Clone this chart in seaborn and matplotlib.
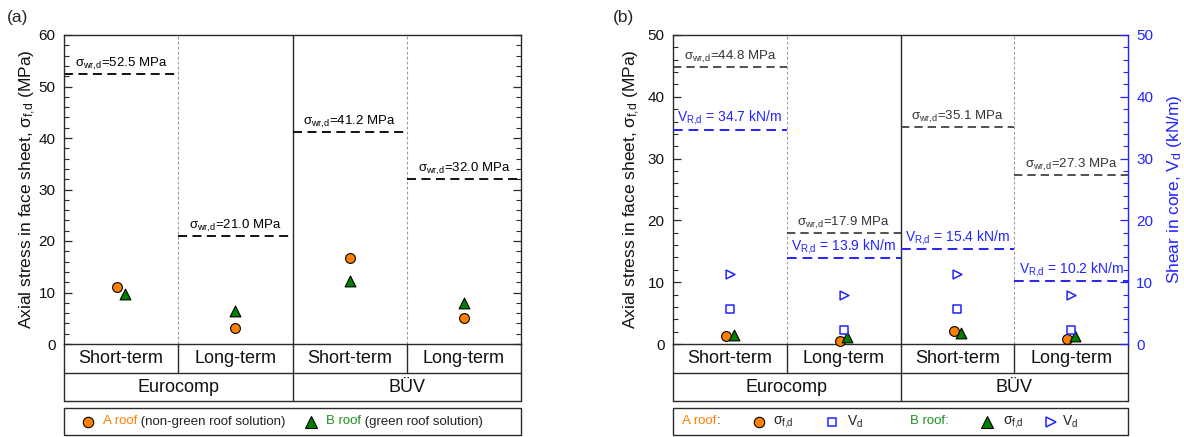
import numpy as np
import pandas as pd
import matplotlib
matplotlib.use("Agg")
import matplotlib.pyplot as plt
import seaborn as sns
from matplotlib.ticker import MultipleLocator
from matplotlib.patches import Rectangle

# ---------------- data ----------------
terms = ["Short-term", "Long-term", "Short-term", "Long-term"]
codes = ["Eurocomp", "BÜV"]

# panel (a): axial stress in face sheet (MPa)
a_sigma_A = [11.0, 3.2, 16.7, 5.0]     # A roof (non-green)
a_sigma_B = [9.8, 6.5, 12.2, 8.0]      # B roof (green)
a_sigma_wr = [52.5, 21.0, 41.2, 32.0]  # wrinkling limit

# panel (b)
b_sigma_A = [1.25, 0.55, 2.05, 0.75]
b_sigma_B = [1.45, 1.1, 1.8, 1.35]
b_V_A = [5.7, 2.3, 5.7, 2.3]
b_V_B = [11.4, 8.0, 11.4, 8.0]
b_sigma_wr = [44.8, 17.9, 35.1, 27.3]
b_V_Rd = [34.7, 13.9, 15.4, 10.2]

# ---------------- style ----------------
sns.set_style("ticks")
plt.rcParams["font.family"] = ["Liberation Sans", "DejaVu Sans"]
plt.rcParams["mathtext.fontset"] = "custom"
plt.rcParams["mathtext.rm"] = "Liberation Sans"
plt.rcParams["mathtext.it"] = "Liberation Sans"
plt.rcParams["mathtext.bf"] = "Liberation Sans:bold"
plt.rcParams["axes.linewidth"] = 1.0

ORANGE = "#FF8000"
GREEN = "#007F00"
GREEN_TXT = "#1E901E"
BLUE = "#2323FF"
DARK = "#2A2A2A"
DODGE = 0.032

SIG_WR = r"$\sigma_{\mathrm{wr{,}d}}$"
SIG_FD = r"$\sigma_{\mathrm{f{,}d}}$"
V_RD = r"$V_{\mathrm{R{,}d}}$"
V_D = r"$V_{\mathrm{d}}$"

W, H = 1184, 437
fig = plt.figure(figsize=(W / 100, H / 100), dpi=100)
axA = fig.add_axes([64 / W, 93 / H, 457 / W, 309 / H])
axB = fig.add_axes([673 / W, 93 / H, 455 / W, 309 / H])
axB2 = axB.twinx()

pos = np.arange(len(terms))


def base_axis(ax, ymax, right=True):
    ax.set_xlim(-0.5, 3.5)
    ax.set_ylim(0, ymax)
    ax.set_xticks([])
    ax.yaxis.set_major_locator(MultipleLocator(10))
    ax.yaxis.set_minor_locator(MultipleLocator(2))
    ax.tick_params(axis="y", which="major", direction="in", length=6, width=0.9,
                   labelsize=11, pad=6, right=right, colors=DARK)
    ax.tick_params(axis="y", which="minor", direction="in", length=3.5, width=0.8,
                   right=right, colors=DARK)
    ax.tick_params(axis="y", labelcolor="#111111")
    for s in ax.spines.values():
        s.set_visible(True)
        s.set_color(DARK)
        s.set_linewidth(1.0)
    ax.axvline(0.5, color="#9a9a9a", lw=0.8, ls=(0, (2.5, 2)), zorder=1)
    ax.axvline(2.5, color="#9a9a9a", lw=0.8, ls=(0, (2.5, 2)), zorder=1)
    ax.axvline(1.5, color=DARK, lw=1.0, zorder=1)


def draw_table(ax):
    t = ax.transAxes
    r1, r2 = -29 / 309, -57 / 309
    kw = dict(transform=t, clip_on=False, color=DARK, lw=1.0)
    ax.plot([0, 1], [r1, r1], **kw)
    ax.plot([0, 1], [r2, r2], **kw)
    ax.plot([0, 0], [0, r2], **kw)
    ax.plot([1, 1], [0, r2], **kw)
    for xf in (0.25, 0.5, 0.75):
        ax.plot([xf, xf], [0, r1], **kw)
    ax.plot([0.5, 0.5], [r1, r2], **kw)
    for i, term in enumerate(terms):
        ax.text((i + 0.5) / 4, r1 / 2, term, transform=t, ha="center", va="center",
                fontsize=13, color="#111111")
    for j, code in enumerate(codes):
        ax.text((2 * j + 1) / 4, (r1 + r2) / 2, code, transform=t, ha="center",
                va="center", fontsize=13, color="#111111")
    ax.add_patch(Rectangle((0, -91 / 309), 1, 27 / 309, transform=t, clip_on=False,
                           fill=False, edgecolor=DARK, lw=1.0))


def limit_lines(ax, values, prefix, suffix, color, fs, lw, dash):
    for i, v in enumerate(values):
        ax.hlines(v, i - 0.5, i + 0.5, colors=color, linestyles=[dash], lw=lw, zorder=2)
        ax.annotate(prefix + f"{v:.1f}" + suffix, xy=(i, v), xytext=(0, 1.5),
                    textcoords="offset points", ha="center", va="bottom",
                    fontsize=fs, color=color)


def scatter(ax, x, y, marker, s, face, edge, lw=0.8):
    df = pd.DataFrame({"x": x, "y": y})
    sns.scatterplot(data=df, x="x", y="y", ax=ax, marker=marker, s=s, color=face,
                    edgecolor=edge, linewidth=lw, zorder=5, legend=False, clip_on=False)
    ax.set_xlabel("")
    ax.set_ylabel("")


def mixed_text(ax, x, y, parts, fs):
    first = None
    for txt, col in parts:
        if first is None:
            first = ax.text(x, y, txt, transform=ax.transAxes, color=col, fontsize=fs,
                            ha="left", va="center")
        else:
            first = ax.annotate(txt, xy=(1, 0), xycoords=first, ha="left", va="bottom",
                                color=col, fontsize=fs)
    return first


def leg_marker(ax, x, y, marker, ms, face, edge, mew=0.8):
    ax.plot([x], [y], marker=marker, ms=ms, mfc=face, mec=edge, mew=mew,
            transform=ax.transAxes, clip_on=False, ls="none")


# ---------------- panel (a) ----------------
base_axis(axA, 60, right=True)
dA = np.where(np.abs(np.array(a_sigma_A) - np.array(a_sigma_B)) < 2.5, DODGE, 0.0)
scatter(axA, pos - dA, a_sigma_A, "o", 50, ORANGE, "black")
scatter(axA, pos + dA, a_sigma_B, "^", 60, GREEN, "black")
limit_lines(axA, a_sigma_wr, SIG_WR + "=", " MPa", "black", 9.5, 1.3, (0, (5, 3)))
axA.set_ylim(0, 60)
axA.set_xlim(-0.5, 3.5)
axA.set_ylabel("Axial stress in face sheet, " + SIG_FD + " (MPa)", fontsize=12.5,
               color="#111111")
axA.yaxis.set_label_coords(-0.056, 0.5)
draw_table(axA)

ly = -77.5 / 309
leg_marker(axA, 0.0525, ly, "o", 7.5, ORANGE, "black")
mixed_text(axA, 0.0853, ly, [("A roof", ORANGE), (" (non-green roof solution)", "#222222")], 9.5)
leg_marker(axA, 0.5405, ly, "^", 8, GREEN, "black")
mixed_text(axA, 0.573, ly, [("B roof", GREEN_TXT), (" (green roof solution)", "#222222")], 9.5)

# ---------------- panel (b) ----------------
base_axis(axB, 50, right=False)
axB.spines["right"].set_visible(False)
scatter(axB, pos - DODGE, b_sigma_A, "o", 50, ORANGE, "black")
scatter(axB, pos + DODGE, b_sigma_B, "^", 60, GREEN, "black")
limit_lines(axB, b_sigma_wr, SIG_WR + "=", " MPa", "#333333", 9.5, 1.2, (0, (5, 3)))
axB.set_ylim(0, 50)
axB.set_xlim(-0.5, 3.5)
axB.set_ylabel("Axial stress in face sheet, " + SIG_FD + " (MPa)", fontsize=12.5,
               color="#111111")
axB.yaxis.set_label_coords(-0.068, 0.5)

axB2.set_ylim(0, 50)
axB2.set_xlim(-0.5, 3.5)
axB2.yaxis.set_major_locator(MultipleLocator(10))
axB2.yaxis.set_minor_locator(MultipleLocator(2))
axB2.tick_params(axis="y", which="major", direction="in", length=6, width=0.9,
                 labelsize=11, pad=6, colors=BLUE)
axB2.tick_params(axis="y", which="minor", direction="in", length=3.5, width=0.8, colors=BLUE)
for name, s in axB2.spines.items():
    s.set_visible(name == "right")
axB2.spines["right"].set_color(BLUE)
axB2.spines["right"].set_linewidth(1.0)
scatter(axB2, pos, b_V_A, "s", 30, "white", BLUE, lw=1.1)
scatter(axB2, pos, b_V_B, ">", 40, "white", BLUE, lw=1.1)
limit_lines(axB2, b_V_Rd, V_RD + " = ", " kN/m", BLUE, 10, 1.4, (0, (5, 3)))
axB2.set_ylim(0, 50)
axB2.set_xlim(-0.5, 3.5)
axB2.set_ylabel("Shear in core, " + V_D + " (kN/m)", fontsize=12.5, color=BLUE)
axB2.yaxis.set_label_coords(1.081, 0.5)
draw_table(axB)

mixed_text(axB, 0.0198, ly, [("A roof", ORANGE), (":", "#333333")], 9.5)
leg_marker(axB, 0.189, ly, "o", 7.5, ORANGE, "black")
axB.text(0.22, ly, SIG_FD, transform=axB.transAxes, fontsize=10,
         va="center", color="#222222")
leg_marker(axB, 0.349, ly, "s", 6, "white", BLUE, 1.1)
axB.text(0.382, ly, V_D, transform=axB.transAxes, fontsize=10,
         va="center", color="#222222")
mixed_text(axB, 0.521, ly, [("B roof:", GREEN_TXT)], 9.5)
leg_marker(axB, 0.69, ly, "^", 8, GREEN, "black")
axB.text(0.725, ly, SIG_FD, transform=axB.transAxes, fontsize=10,
         va="center", color="#222222")
leg_marker(axB, 0.831, ly, ">", 6.5, "white", BLUE, 1.1)
axB.text(0.855, ly, V_D, transform=axB.transAxes, fontsize=10,
         va="center", color="#222222")

fig.text(7 / W, 1 - 17.5 / H, "(a)", fontsize=12.5, va="center", ha="left")
fig.text(613 / W, 1 - 17.5 / H, "(b)", fontsize=12.5, va="center", ha="left")

fig.savefig("out.png", dpi=100)
